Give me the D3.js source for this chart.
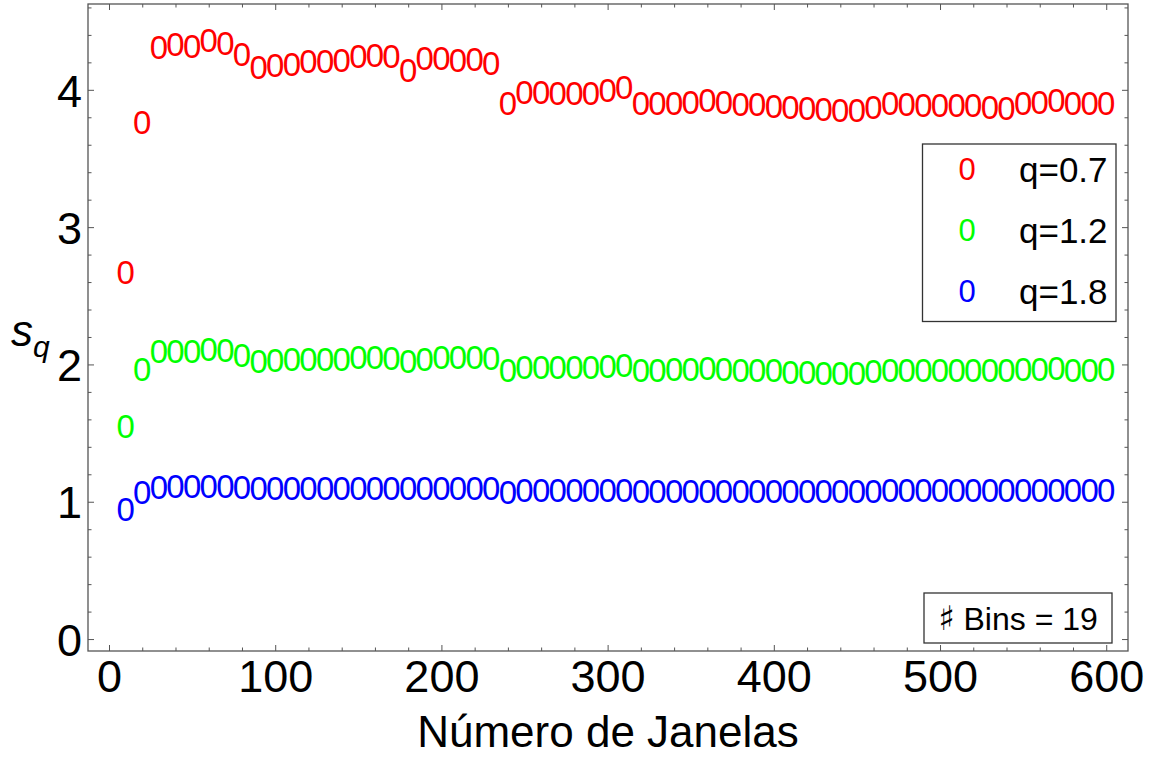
<!DOCTYPE html>
<html>
<head>
<meta charset="utf-8">
<script src="https://cdn.jsdelivr.net/npm/d3@7"></script>
<style>
  html, body { margin: 0; padding: 0; background: #fff; }
  svg { display: block; font-family: "Liberation Sans", Arial, sans-serif; }
</style>
</head>
<body>
<svg id="chart" width="1151" height="760"></svg>
<script>
// number of windows (x values)
const janelas = [10, 20, 30, 40, 50, 60, 70, 80, 90, 100,
  110, 120, 130, 140, 150, 160, 170, 180, 190, 200,
  210, 220, 230, 240, 250, 260, 270, 280, 290, 300,
  310, 320, 330, 340, 350, 360, 370, 380, 390, 400,
  410, 420, 430, 440, 450, 460, 470, 480, 490, 500,
  510, 520, 530, 540, 550, 560, 570, 580, 590, 600];

// s_q for q = 0.7
const sq07 = [2.675, 3.762, 4.308, 4.331, 4.321, 4.360, 4.339, 4.262, 4.162, 4.178,
  4.187, 4.211, 4.207, 4.217, 4.247, 4.256, 4.245, 4.140, 4.232, 4.230,
  4.215, 4.220, 4.195, 3.901, 3.986, 3.986, 3.974, 3.974, 3.974, 3.998,
  4.020, 3.905, 3.905, 3.905, 3.910, 3.922, 3.914, 3.898, 3.893, 3.883,
  3.877, 3.867, 3.859, 3.853, 3.853, 3.871, 3.902, 3.894, 3.889, 3.887,
  3.885, 3.885, 3.875, 3.867, 3.902, 3.911, 3.922, 3.902, 3.902, 3.902];

// s_q for q = 1.2
const sq12 = [1.550, 1.963, 2.095, 2.098, 2.098, 2.108, 2.103, 2.071, 2.022, 2.028,
  2.036, 2.042, 2.042, 2.036, 2.053, 2.053, 2.047, 2.022, 2.042, 2.053,
  2.056, 2.056, 2.047, 1.959, 1.983, 1.983, 1.983, 1.983, 1.981, 1.991,
  1.996, 1.959, 1.960, 1.966, 1.966, 1.974, 1.966, 1.960, 1.956, 1.956,
  1.947, 1.945, 1.939, 1.939, 1.939, 1.950, 1.960, 1.960, 1.959, 1.960,
  1.960, 1.960, 1.956, 1.956, 1.966, 1.966, 1.974, 1.960, 1.960, 1.963];

// s_q for q = 1.8
const sq18 = [0.943, 1.073, 1.109, 1.117, 1.117, 1.117, 1.117, 1.109, 1.097, 1.100,
  1.100, 1.100, 1.100, 1.100, 1.100, 1.100, 1.100, 1.100, 1.100, 1.100,
  1.100, 1.100, 1.100, 1.073, 1.085, 1.085, 1.085, 1.085, 1.085, 1.085,
  1.085, 1.078, 1.078, 1.078, 1.078, 1.078, 1.078, 1.078, 1.078, 1.078,
  1.080, 1.078, 1.075, 1.075, 1.075, 1.080, 1.082, 1.082, 1.082, 1.082,
  1.082, 1.082, 1.082, 1.082, 1.082, 1.082, 1.082, 1.082, 1.082, 1.082];

const seriesNames = ["q=0.7", "q=1.2", "q=1.8"];
const seriesColors = ["#ff0000", "#00ff00", "#0000ff"];
const seriesValues = [sq07, sq12, sq18];

const xTicks = [0, 100, 200, 300, 400, 500, 600];
const yTicks = [0, 1, 2, 3, 4];

// plot frame
const frame = {left: 88, right: 1128, top: 4, bottom: 651};

const svg = d3.select("#chart");

const x = d3.scaleLinear().domain([-12.64, 613.1]).range([frame.left, frame.right]);
const y = d3.scaleLinear().domain([-0.087, 4.625]).range([frame.bottom, frame.top]);

const frameColor = "#555";

// minor ticks
const xMinor = d3.range(0, 601, 20).filter(v => v % 100 !== 0);
const yMinor = d3.range(0, 4.61, 0.2).filter(v => Math.abs(v - Math.round(v)) > 1e-6);

function styleAxis(g) {
  g.select(".domain").remove();
  g.selectAll(".tick line").attr("stroke", frameColor).attr("stroke-width", 1);
  g.selectAll(".tick text").attr("fill", "#000").attr("font-family", "Liberation Sans, Arial, sans-serif");
}

// bottom
svg.append("g")
  .attr("transform", `translate(0,${frame.bottom})`)
  .call(d3.axisBottom(x).tickValues(xTicks).tickFormat(d3.format("d")).tickSize(-6).tickPadding(9))
  .call(styleAxis)
  .selectAll(".tick text").attr("font-size", 45).attr("dy", "0.72em");
svg.append("g")
  .attr("transform", `translate(0,${frame.bottom})`)
  .call(d3.axisBottom(x).tickValues(xMinor).tickFormat("").tickSize(-3.5))
  .call(styleAxis);
// top
svg.append("g")
  .attr("transform", `translate(0,${frame.top})`)
  .call(d3.axisTop(x).tickValues(xTicks).tickFormat("").tickSize(-6))
  .call(styleAxis);
svg.append("g")
  .attr("transform", `translate(0,${frame.top})`)
  .call(d3.axisTop(x).tickValues(xMinor).tickFormat("").tickSize(-3.5))
  .call(styleAxis);
// left
svg.append("g")
  .attr("transform", `translate(${frame.left},0)`)
  .call(d3.axisLeft(y).tickValues(yTicks).tickFormat(d3.format("d")).tickSize(-6).tickPadding(6))
  .call(styleAxis)
  .selectAll(".tick text").attr("font-size", 45).attr("dy", "0.36em");
svg.append("g")
  .attr("transform", `translate(${frame.left},0)`)
  .call(d3.axisLeft(y).tickValues(yMinor).tickFormat("").tickSize(-3.5))
  .call(styleAxis);
// right
svg.append("g")
  .attr("transform", `translate(${frame.right},0)`)
  .call(d3.axisRight(y).tickValues(yTicks).tickFormat("").tickSize(-6))
  .call(styleAxis);
svg.append("g")
  .attr("transform", `translate(${frame.right},0)`)
  .call(d3.axisRight(y).tickValues(yMinor).tickFormat("").tickSize(-3.5))
  .call(styleAxis);

svg.append("rect")
  .attr("x", frame.left).attr("y", frame.top)
  .attr("width", frame.right - frame.left).attr("height", frame.bottom - frame.top)
  .attr("fill", "none").attr("stroke", frameColor).attr("stroke-width", 1.3);

// data markers ("0" glyphs)
seriesValues.forEach(function(vals, i) {
  svg.append("g")
    .selectAll("text")
    .data(vals.map((v, k) => ({x: janelas[k], y: v})))
    .join("text")
      .attr("x", d => x(d.x))
      .attr("y", d => y(d.y))
      .attr("dy", "0.36em")
      .attr("text-anchor", "middle")
      .attr("font-size", 33)
      .attr("fill", seriesColors[i])
      .text("0");
});

// axis labels
svg.append("text")
  .attr("x", (frame.left + frame.right) / 2)
  .attr("y", 747)
  .attr("text-anchor", "middle")
  .attr("font-size", 44)
  .text("Número de Janelas");

const ylab = svg.append("text")
  .attr("x", 11)
  .attr("y", 346)
  .attr("font-size", 44)
  .attr("font-style", "italic");
ylab.append("tspan").text("s");
ylab.append("tspan").attr("font-size", 30).attr("dy", 11).text("q");

// legend
const legend = svg.append("g");
legend.append("rect")
  .attr("x", 922.5).attr("y", 144)
  .attr("width", 193.5).attr("height", 177.5)
  .attr("fill", "#fff").attr("stroke", "#333").attr("stroke-width", 1.3);
const rowY = d3.scalePoint().domain(seriesNames).range([169, 291]);
seriesNames.forEach(function(name, i) {
  legend.append("text")
    .attr("x", 967).attr("y", rowY(name)).attr("dy", "0.36em")
    .attr("text-anchor", "middle").attr("font-size", 31)
    .attr("fill", seriesColors[i]).text("0");
  legend.append("text")
    .attr("x", 1019).attr("y", rowY(name)).attr("dy", "0.36em")
    .attr("font-size", 35).attr("fill", "#000").text(name);
});

// bins note
svg.append("rect")
  .attr("x", 924).attr("y", 593)
  .attr("width", 188).attr("height", 50)
  .attr("fill", "#fff").attr("stroke", "#333").attr("stroke-width", 1.3);
const bins = svg.append("text")
  .attr("x", 1018).attr("y", 618).attr("dy", "0.36em")
  .attr("text-anchor", "middle").attr("font-size", 32);
bins.append("tspan").attr("font-family", "DejaVu Sans").attr("font-size", 34).text("\u266F");
bins.append("tspan").text(" Bins = 19");
</script>
</body>
</html>
